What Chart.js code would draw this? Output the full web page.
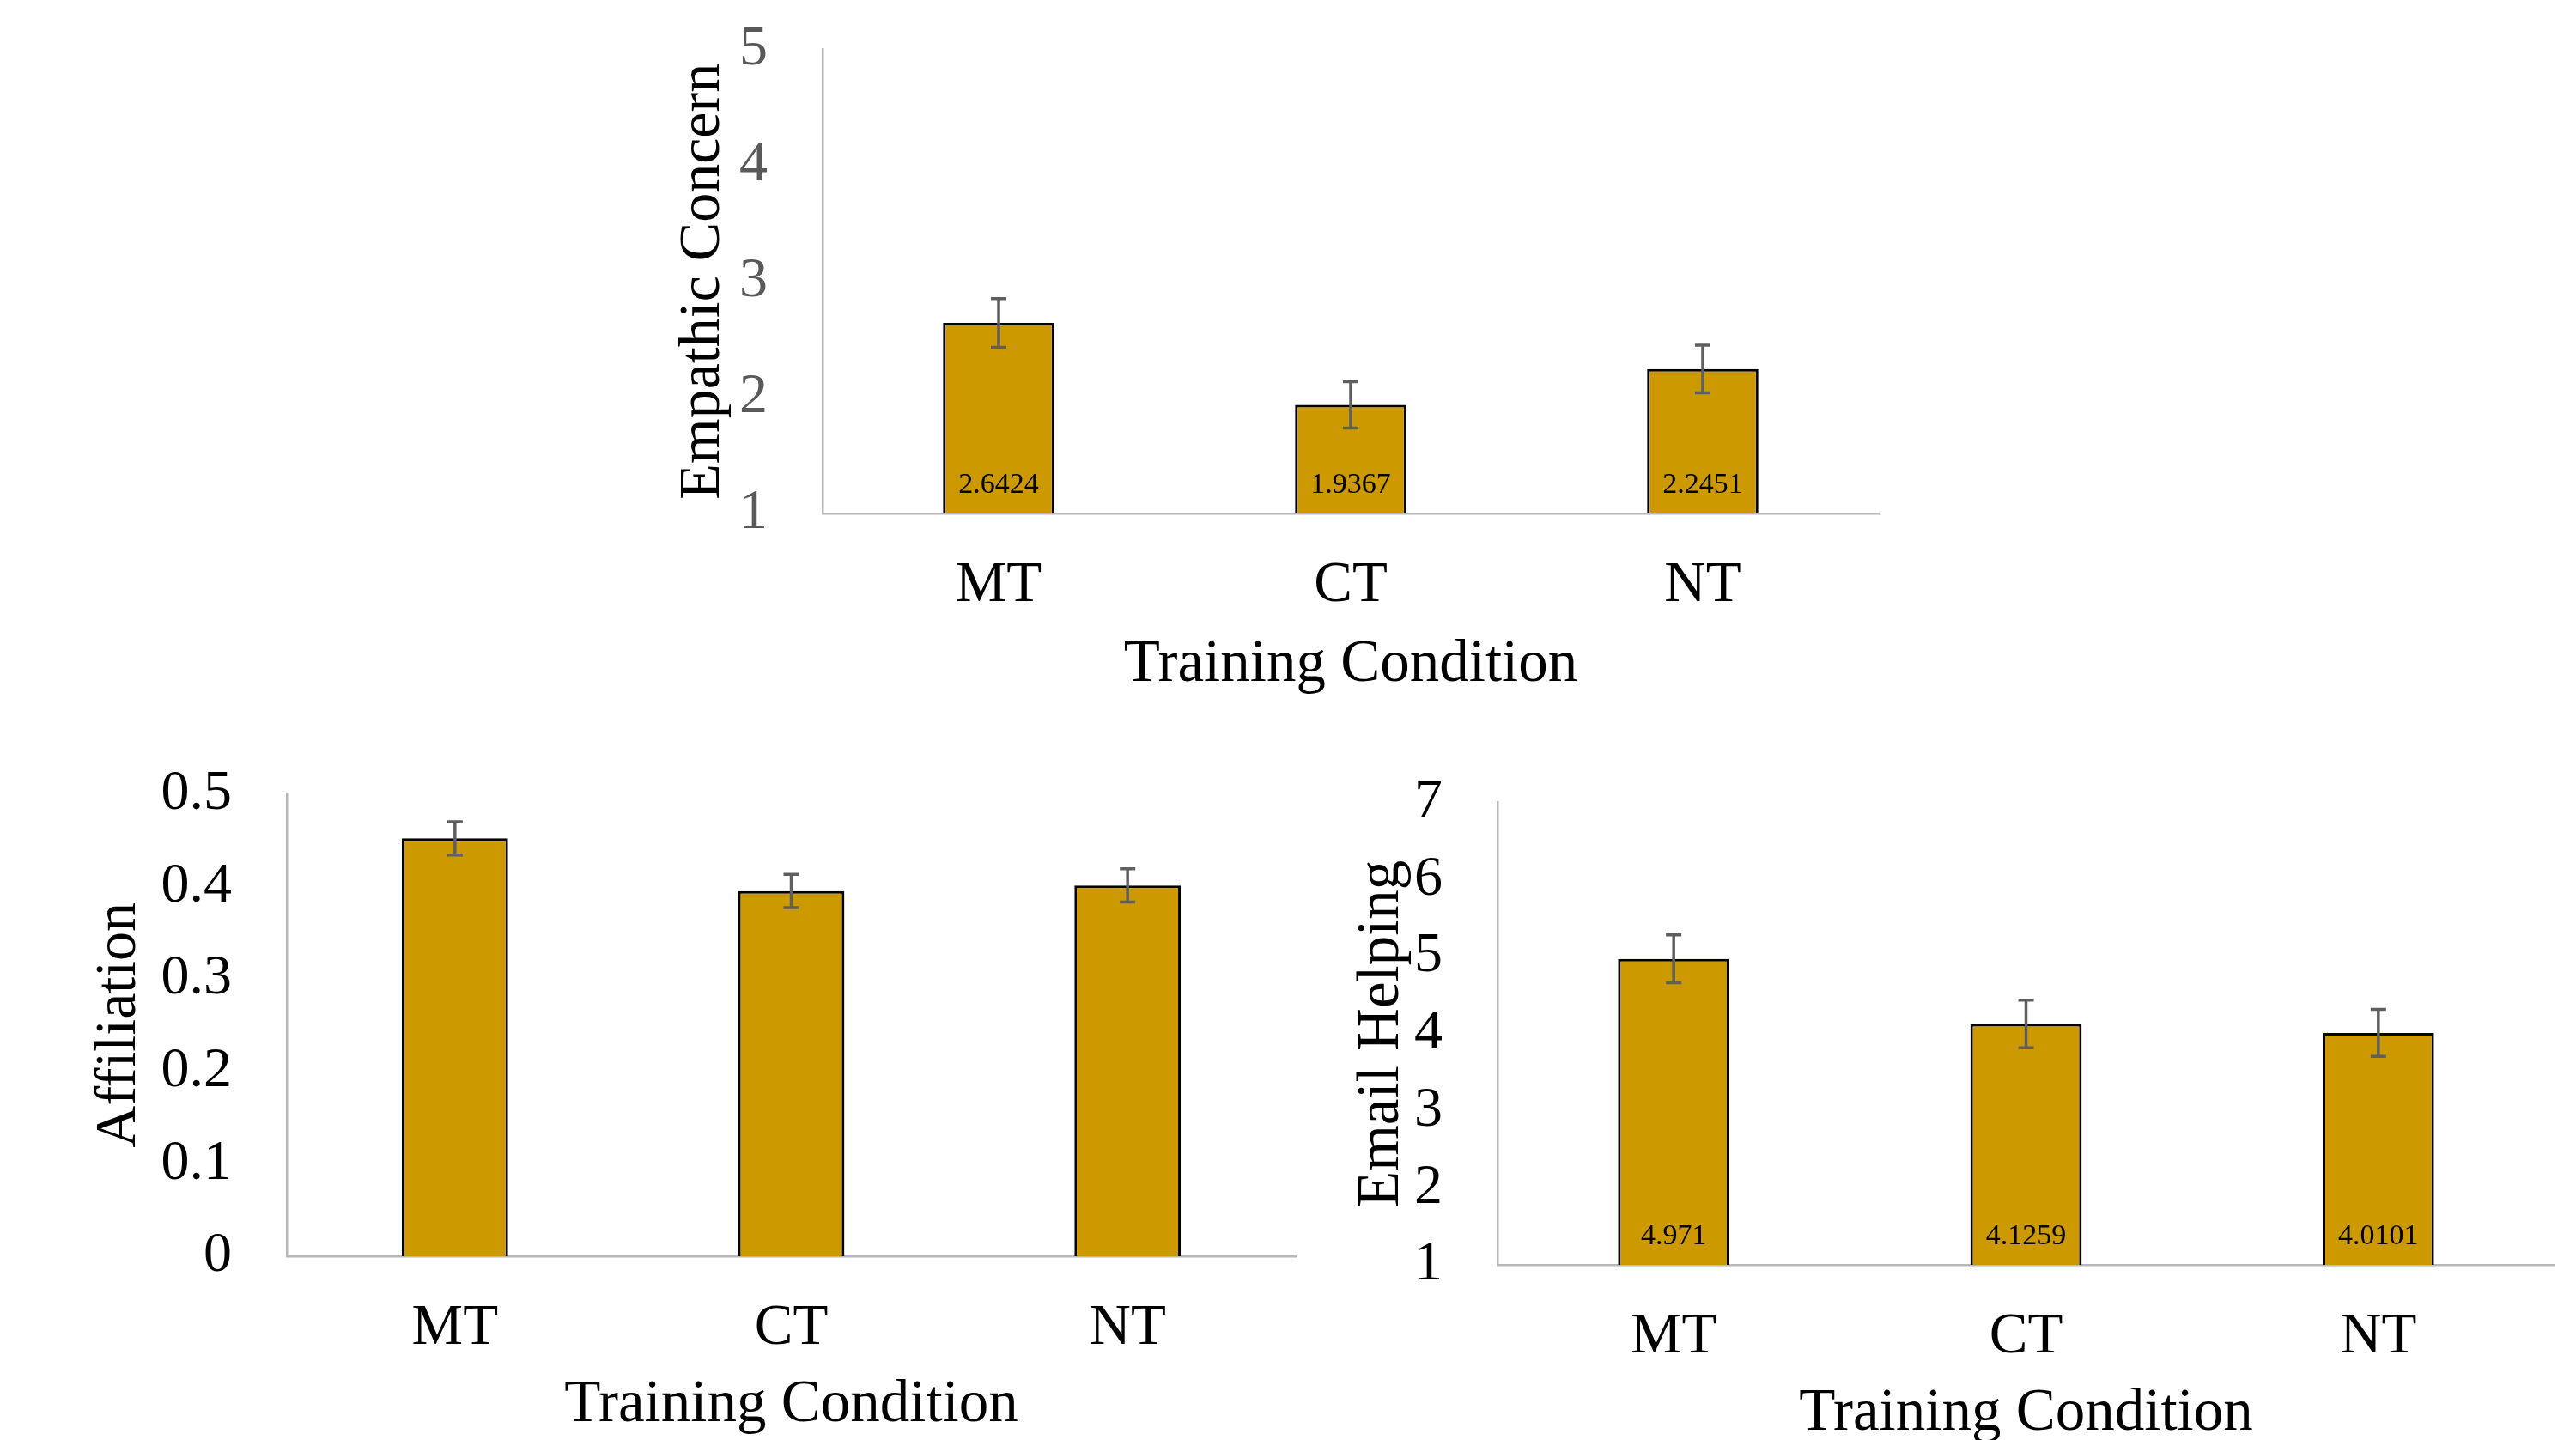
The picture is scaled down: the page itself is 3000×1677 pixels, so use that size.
<!DOCTYPE html>
<html>
<head>
<meta charset="utf-8">
<script src="https://cdn.jsdelivr.net/npm/chart.js@4.4.1/dist/chart.umd.min.js"></script>
<style>
  html, body { margin: 0; padding: 0; background: #fff; overflow: hidden; }
  body { width: 3000px; height: 1677px; position: relative; }
  .box { position: absolute; }
</style>
</head>
<body>
<div class="box" style="left:760px;top:-46px;width:1460px;height:866px"><canvas id="empathyChart"></canvas></div>
<div class="box" style="left:60px;top:821px;width:1480px;height:879px"><canvas id="affiliationChart"></canvas></div>
<div class="box" style="left:1540px;top:831px;width:1460px;height:869px"><canvas id="helpingChart"></canvas></div>
<script>
// values
const conditions = ['MT', 'CT', 'NT'];

const empathyMeans = [2.6424, 1.9367, 2.2451];
const empathyErrors = [0.21, 0.2, 0.205];
const empathyTicks = [1, 2, 3, 4, 5];

const affiliationMeans = [0.452, 0.395, 0.401];
const affiliationErrors = [0.018, 0.018, 0.018];
const affiliationTicks = [0, 0.1, 0.2, 0.3, 0.4, 0.5];

const helpingMeans = [4.971, 4.1259, 4.0101];
const helpingErrors = [0.31, 0.31, 0.305];
const helpingTicks = [1, 2, 3, 4, 5, 6, 7];

const serif = '"Liberation Serif", "Times New Roman", serif';
const axisGray = '#b8b8b8';

// error bars + value labels inside the bars
const barExtras = {
    id: 'barExtras',
    afterDatasetsDraw(chart, args, opts) {
        const { ctx } = chart;
        const y = chart.scales.y;
        const ds = chart.data.datasets[0];
        const meta = chart.getDatasetMeta(0);
        ctx.save();
        if (opts.showValues) {
            ctx.fillStyle = '#000';
            ctx.font = '34px ' + serif;
            ctx.textAlign = 'center';
            ctx.textBaseline = 'middle';
            meta.data.forEach((bar, i) => {
                ctx.fillText(String(ds.data[i]), bar.x, y.getPixelForValue(y.min) - 33);
            });
        }
        ctx.strokeStyle = '#5f5f5f';
        ctx.lineWidth = 3.5;
        meta.data.forEach((bar, i) => {
            const top = y.getPixelForValue(ds.data[i] + ds.errors[i]);
            const bot = y.getPixelForValue(ds.data[i] - ds.errors[i]);
            ctx.beginPath();
            ctx.moveTo(bar.x, top); ctx.lineTo(bar.x, bot);
            ctx.moveTo(bar.x - 9, top); ctx.lineTo(bar.x + 9, top);
            ctx.moveTo(bar.x - 9, bot); ctx.lineTo(bar.x + 9, bot);
            ctx.stroke();
        });
        ctx.restore();
    }
};

const makeChart = (id, means, errors, ticks, cfg) => {
    const ctx = document.getElementById(id).getContext('2d');
    return new Chart(ctx, {
        type: 'bar',
        data: {
            labels: conditions,
            datasets: [{
                data: means,
                errors: errors,
                backgroundColor: '#cc9900',
                borderColor: '#000',
                borderWidth: 3,
                categoryPercentage: 1,
                barPercentage: 0.316
            }]
        },
        options: {
            responsive: true,
            maintainAspectRatio: false,
            animation: false,
            devicePixelRatio: 1,
            // top of the plot comes from the y tick label half height + tick padding
            layout: { padding: { top: 0, right: cfg.padRight, left: 0, bottom: 0 } },
            plugins: {
                legend: { display: false },
                tooltip: { enabled: false },
                barExtras: { showValues: cfg.showValues }
            },
            scales: {
                x: {
                    grid: { display: false, drawTicks: false },
                    border: { color: axisGray, width: 2.5 },
                    ticks: { padding: 44, autoSkip: false, color: '#000', font: { family: serif, size: 67 } },
                    title: {
                        display: true, text: 'Training Condition', color: '#000',
                        font: { family: serif, size: 69 },
                        padding: { top: 0, bottom: cfg.xTitlePad }
                    },
                    afterFit: s => { s.height = cfg.xAxisHeight; }
                },
                y: {
                    min: ticks[0],
                    max: ticks[ticks.length - 1],
                    afterBuildTicks: s => { s.ticks = ticks.map(v => ({ value: v })); },
                    grid: { display: false, drawTicks: false },
                    border: { color: axisGray, width: 2.5 },
                    ticks: { padding: 64, autoSkip: false, color: cfg.yTickColor, font: { family: serif, size: 66 }, callback: v => String(v) },
                    title: {
                        display: true, text: cfg.yTitle, color: '#000',
                        font: { family: serif, size: cfg.yTitleSize },
                        padding: { top: cfg.yTitlePad, bottom: 0 }
                    },
                    afterFit: s => { s.width = cfg.yAxisWidth; }
                }
            }
        },
        plugins: [barExtras]
    });
};

makeChart('empathyChart', empathyMeans, empathyErrors, empathyTicks, {
    yTitle: 'Empathic Concern', yTitleSize: 68, yTickColor: '#595959', showValues: true,
    padRight: 32, yAxisWidth: 198, yTitlePad: 18, xAxisHeight: 222, xTitlePad: 4
});
makeChart('affiliationChart', affiliationMeans, affiliationErrors, affiliationTicks, {
    yTitle: 'Affiliation', yTitleSize: 68, yTickColor: '#000', showValues: false,
    padRight: 31, yAxisWidth: 274, yTitlePad: 38, xAxisHeight: 237, xTitlePad: 22
});
makeChart('helpingChart', helpingMeans, helpingErrors, helpingTicks, {
    yTitle: 'Email Helping', yTitleSize: 69, yTickColor: '#000', showValues: true,
    padRight: 25, yAxisWidth: 204, yTitlePad: 28, xAxisHeight: 227, xTitlePad: 12
});
</script>
</body>
</html>
